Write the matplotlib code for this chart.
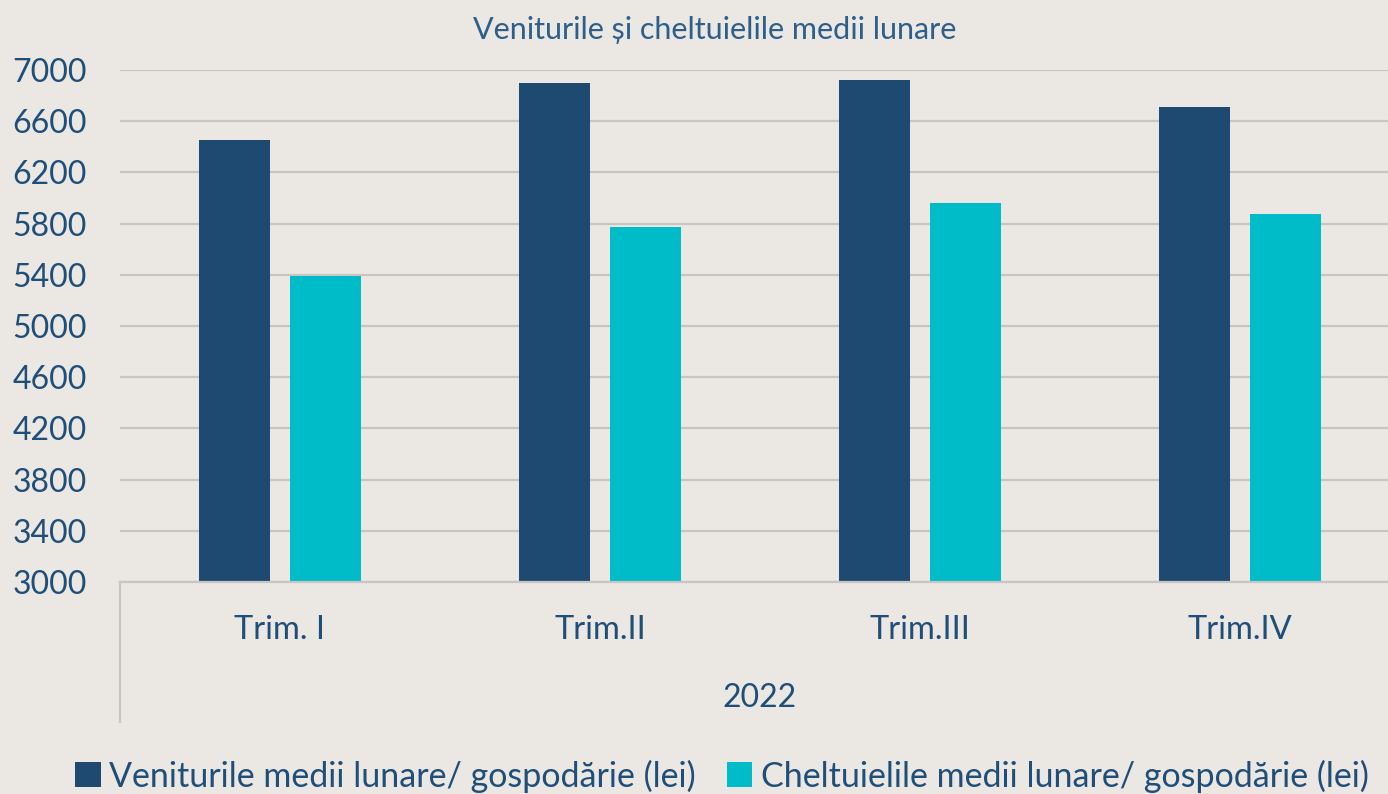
import matplotlib
matplotlib.use("Agg")
import matplotlib.pyplot as plt
from matplotlib.patches import Patch
import numpy as np

categories = ["Trim. I", "Trim.II", "Trim.III", "Trim.IV"]
year_label = "2022"
venituri = [6453, 6901, 6922, 6713]
cheltuieli = [5392, 5776, 5958, 5875]
series_names = ["Veniturile medii lunare/ gospodărie (lei)",
                "Cheltuielile medii lunare/ gospodărie (lei)"]
title = "Veniturile și cheltuielile medii lunare"
yticks = list(range(3000, 7001, 400))

BG = "#ebe7e3"
DARK = "#1e4a72"
TEAL = "#00bcc8"
TXT = "#1f4e79"
GRID = "#c9c5c0"
FONT = ["Lato", "DejaVu Sans"]

W, H = 1388, 794
fig = plt.figure(figsize=(W / 100, H / 100), dpi=100, facecolor=BG)
ax = fig.add_axes([120 / W, (H - 582) / H, (1400 - 120) / W, 512 / H])
ax.set_facecolor(BG)

x = np.arange(len(categories))
bw = 0.222
off = 0.142
ax.bar(x - off, venituri, bw, color=DARK, zorder=3)
ax.bar(x + off, cheltuieli, bw, color=TEAL, zorder=3)

ax.set_ylim(3000, 7000)
ax.set_xlim(-0.5, 3.5)
ax.set_yticks(yticks)
ax.set_yticklabels([str(t) for t in yticks], family=FONT, fontsize=23, color=TXT)
ax.set_xticks(x)
ax.set_xticklabels(categories, family=FONT, fontsize=23.5, color=TXT)
ax.tick_params(axis="y", length=0, pad=24)
ax.tick_params(axis="x", length=0, pad=24)
ax.yaxis.grid(True, color=GRID, lw=1.6, zorder=0)
ax.set_axisbelow(True)
for s in ["top", "right", "left"]:
    ax.spines[s].set_visible(False)
ax.spines["bottom"].set_color(GRID)
ax.spines["bottom"].set_linewidth(1.6)
ax.spines["bottom"].set_zorder(4)

# category-axis separator on the left
ax.plot([0, 0], [0, -140 / 512], transform=ax.transAxes, color=GRID,
        lw=1.6, clip_on=False)
ax.text(0.5, -116 / 512, year_label, transform=ax.transAxes, ha="center",
        va="center", family=FONT, fontsize=23, color=TXT)

fig.text(715 / W, 1 - 30 / H, title, ha="center", va="center",
         family=FONT, fontsize=22, color="#2e5f8a")

handles = [Patch(facecolor=DARK, label=series_names[0]),
           Patch(facecolor=TEAL, label=series_names[1])]
leg = fig.legend(handles=handles, loc="center", bbox_to_anchor=(722 / W, 1 - 776 / H),
                 ncol=2, frameon=False, prop={"family": FONT, "size": 24.5},
                 handlelength=0.75, handleheight=0.75, handletextpad=0.25,
                 columnspacing=0.9, labelcolor=TXT)

fig.savefig("out.png", dpi=100, facecolor=BG)
